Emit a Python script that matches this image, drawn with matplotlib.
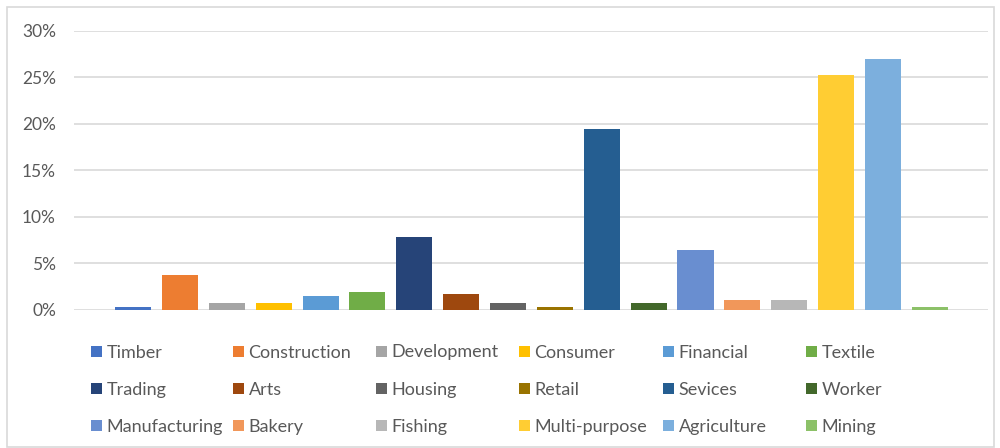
import matplotlib
matplotlib.use("Agg")
import matplotlib.pyplot as plt
from matplotlib.patches import Rectangle

categories = ["Timber", "Construction", "Development", "Consumer", "Financial", "Textile",
              "Trading", "Arts", "Housing", "Retail", "Sevices", "Worker",
              "Manufacturing", "Bakery", "Fishing", "Multi-purpose", "Agriculture", "Mining"]
values = [0.3, 3.8, 0.8, 0.8, 1.5, 1.9,
          7.8, 1.7, 0.8, 0.3, 19.4, 0.8,
          6.4, 1.1, 1.1, 25.2, 27.0, 0.3]
colors = ["#4472C4", "#ED7D31", "#A5A5A5", "#FFC000", "#5B9BD5", "#70AD47",
          "#264478", "#9E480E", "#636363", "#997300", "#255E91", "#43682B",
          "#698ED0", "#F1975A", "#B7B7B7", "#FFCD33", "#7CAFDD", "#8CC168"]
yticks = [0, 5, 10, 15, 20, 25, 30]
ytick_labels = ["0%", "5%", "10%", "15%", "20%", "25%", "30%"]

plt.rcParams['font.family'] = ['Lato', 'DejaVu Sans']
W, H = 1000, 448
fig = plt.figure(figsize=(W / 100, H / 100), dpi=100)
fig.patch.set_facecolor("white")

# chart border
fig.add_artist(Rectangle((7 / W, 1 - 447 / H), 987 / W, 440 / H, transform=fig.transFigure,
                         fill=False, edgecolor="#D9D9D9", linewidth=1.2))

ax = fig.add_axes([74 / W, 1 - 310 / H, 914 / W, 279.3 / H])
xs = list(range(len(categories)))
ax.bar(xs, values, width=0.77, color=colors, zorder=3)
ax.set_xlim(-1.26, len(categories) - 1 + 1.24)
ax.set_ylim(0, 30)
ax.set_yticks(yticks)
ax.set_yticklabels(ytick_labels)
ax.set_xticks([])
ax.tick_params(axis="y", length=0, pad=13, labelsize=12.5, labelcolor="#595959")
for s in ax.spines.values():
    s.set_visible(False)
ax.grid(axis="y", color="#D9D9D9", linewidth=1.2, zorder=0)
ax.set_axisbelow(True)

# legend (row-major, equal column widths like the original)
col_x = [91, 233, 376, 519, 663, 806]
row_y = [351.5, 388.5, 425.5]
for i, (name, c) in enumerate(zip(categories, colors)):
    r, k = divmod(i, 6)
    x0, y0 = col_x[k], row_y[r]
    fig.add_artist(Rectangle((x0 / W, 1 - (y0 + 5.5) / H), 11 / W, 11 / H,
                             transform=fig.transFigure, facecolor=c, edgecolor="none"))
    fig.text((x0 + 15.5) / W, 1 - (y0 + 1) / H, name, fontsize=13, color="#595959",
             va="center", ha="left")

fig.savefig("out.png", dpi=100, facecolor="white")
